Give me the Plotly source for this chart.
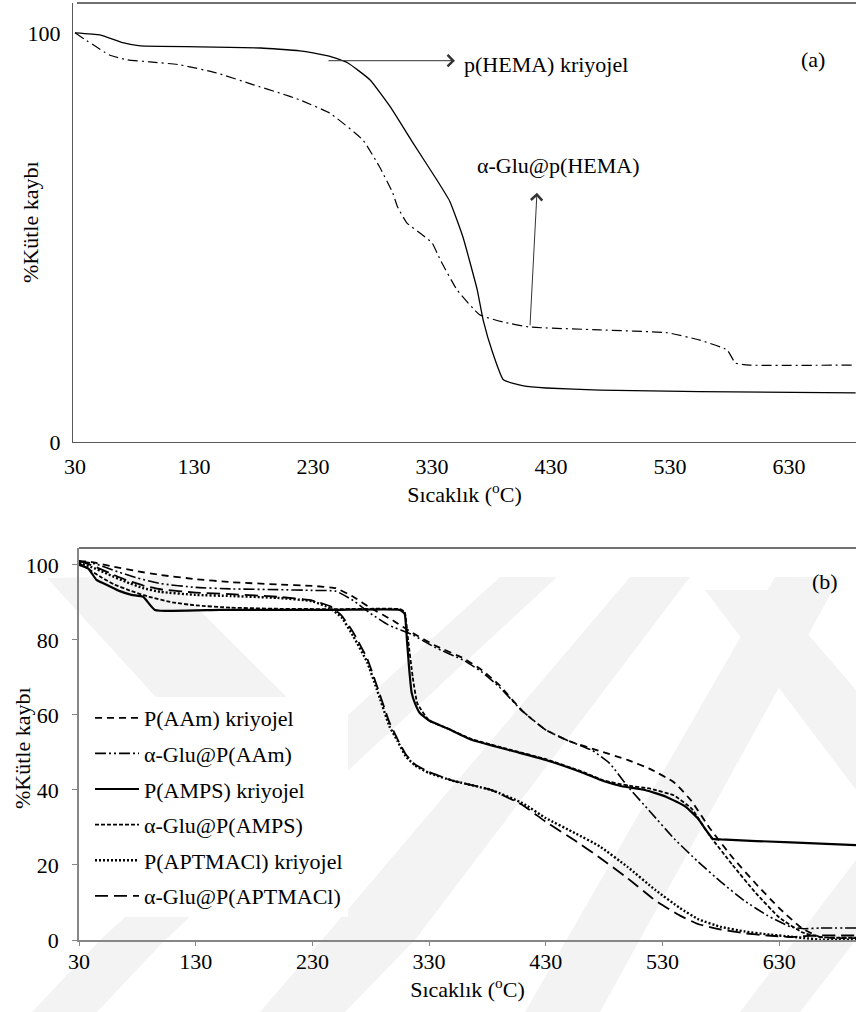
import plotly.graph_objects as go

# ---------------- data: panel (a) ----------------
hema_x = [30, 51, 70, 85, 135, 186, 202, 219, 230, 245, 259, 278, 295, 314, 334, 345, 356, 368, 373, 381, 390, 407, 426, 471, 555, 686]
hema_y = [100, 99.5, 97.6, 96.8, 96.6, 96.3, 96.0, 95.6, 95.1, 94.2, 92.7, 88.5, 81.9, 73.1, 64.1, 58.8, 50.1, 37.2, 29.8, 21.8, 15.2, 13.7, 13.2, 12.7, 12.3, 12.0]

glu_hema_x = [30, 59, 74, 93, 118, 149, 180, 202, 219, 244, 272, 286, 297, 301, 309, 322, 330, 337, 351, 370, 390, 412, 471, 528, 555, 578, 585, 597, 686]
glu_hema_y = [100, 94.6, 93.4, 92.9, 92.2, 90.2, 87.3, 85.3, 83.6, 80.4, 73.8, 67.2, 60.9, 57.5, 53.5, 50.6, 48.7, 44.5, 37.2, 31.1, 29.3, 28.1, 27.4, 26.7, 24.9, 22.5, 19.3, 18.8, 18.8]

# ---------------- data: panel (b) ----------------
aam_x = [30, 40, 60, 80, 100, 130, 160, 200, 230, 250, 265, 280, 300, 315, 335, 360, 375, 390, 410, 430, 450, 475, 500, 520, 540, 555, 570, 590, 610, 630, 650, 665, 680, 696]
aam_y = [101, 100.8, 99.5, 98.3, 97.3, 96.2, 95.4, 94.8, 94.4, 93.8, 91.5, 88.5, 85, 82, 78.5, 75, 72, 68, 61, 56, 53, 50.5, 48, 45.5, 42, 37, 30, 22, 15, 8.5, 3, 0.8, 0.5, 0.5]

glu_aam_x = [30, 45, 60, 80, 100, 130, 160, 200, 230, 250, 265, 280, 295, 315, 335, 360, 375, 390, 410, 430, 450, 470, 485, 500, 520, 540, 560, 580, 600, 620, 640, 652, 665, 696]
glu_aam_y = [101, 100.2, 98.5, 96.5, 95, 94, 93.6, 93.4, 93.2, 93, 90.5, 87, 84, 81.5, 78, 74.5, 71.5, 67.5, 61, 56, 53, 50.5, 47, 41, 34, 27, 21, 15.5, 10.5, 6.5, 3.5, 3, 3.2, 3.2]

amps_x = [30, 38, 45, 55, 65, 75, 85, 95, 150, 200, 250, 305, 309, 311, 313, 315, 318, 322, 330, 345, 367, 400, 430, 460, 480, 495, 515, 533, 550, 560, 568, 573, 580, 640, 696]
amps_y = [100, 99, 96, 94.5, 93, 92, 91.5, 88, 88, 88, 88, 88, 87, 80, 72, 66, 63, 60.5, 58.5, 56.5, 53.3, 50.5, 48, 44.8, 42.3, 41, 40, 38.2, 35.5, 32.5, 29, 27, 26.8, 26, 25.3]

glu_amps_x = [30, 40, 50, 60, 75, 90, 110, 130, 160, 200, 250, 305, 309, 312, 316, 320, 330, 345, 367, 400, 430, 460, 480, 500, 520, 540, 555, 570, 590, 610, 630, 650, 665, 680, 696]
glu_amps_y = [100.5, 98.5, 96.5, 94.8, 93, 91.5, 90, 89.2, 88.6, 88.3, 88.2, 88.2, 87.5, 80, 70, 63, 58.5, 56.5, 53.5, 50.7, 48.2, 45, 42.5, 41.2, 40.3, 38.5, 35, 28, 20, 12.5, 6, 2, 0.8, 0.6, 0.6]

aptmacl_x = [30, 40, 55, 70, 85, 100, 130, 160, 200, 230, 245, 255, 265, 277, 285, 296, 303, 310, 318, 330, 350, 383, 410, 430, 455, 476, 500, 524, 545, 561, 580, 600, 620, 640, 655, 665, 680, 696]
aptmacl_y = [100.5, 99.5, 97.5, 95.5, 93.8, 92.8, 92, 91.7, 91.2, 90.3, 88.5, 86, 81, 74, 67, 57, 53, 49, 46.5, 44.5, 42.5, 40, 36.5, 32.5, 28.5, 25, 19.5, 13.3, 8.5, 5.5, 3.5, 2.3, 1.5, 0.9, 0.4, 0.1, 0.1, 0.1]

glu_aptmacl_x = [30, 40, 55, 70, 85, 100, 130, 160, 200, 230, 245, 255, 265, 277, 285, 296, 303, 310, 318, 330, 350, 383, 410, 430, 455, 476, 500, 524, 545, 561, 580, 600, 620, 640, 650, 660, 680, 696]
glu_aptmacl_y = [101, 100, 98, 96, 94.5, 93.5, 92.6, 92.2, 91.5, 90.5, 89, 86.5, 82, 75, 68, 58, 53.5, 49.5, 46.8, 44.8, 42.5, 40, 36, 31.5, 26.5, 22, 16.5, 10.5, 6.5, 4.2, 2.8, 1.8, 1.2, 0.8, 1.0, 1.2, 1.2, 1.2]

x_ticks = [30, 130, 230, 330, 430, 530, 630]
y_ticks_a = [0, 100]
y_ticks_b = [0, 20, 40, 60, 80, 100]

FONT = "Times New Roman, Liberation Serif, serif"
FS = 22
W, H = 856, 1012

fig = go.Figure()

# panel (a)
fig.add_trace(go.Scatter(x=hema_x, y=hema_y, mode="lines", name="p(HEMA) kriyojel",
                         line=dict(color="black", width=1.3, shape="spline", smoothing=0.4),
                         xaxis="x", yaxis="y", showlegend=False))
fig.add_trace(go.Scatter(x=glu_hema_x, y=glu_hema_y, mode="lines", name="α-Glu@p(HEMA)",
                         line=dict(color="black", width=1.2, dash="10px,4px,2px,4px", shape="spline", smoothing=0.4),
                         xaxis="x", yaxis="y", showlegend=False))

# panel (b)
series_b = [
    ("P(AAm) kriyojel", aam_x, aam_y, "7px,5px", 1.8),
    ("α-Glu@P(AAm)", glu_aam_x, glu_aam_y, "11px,3px,2px,3px,2px,3px", 1.6),
    ("P(AMPS) kriyojel", amps_x, amps_y, "solid", 2.2),
    ("α-Glu@P(AMPS)", glu_amps_x, glu_amps_y, "4px,2px", 1.8),
    ("P(APTMACl) kriyojel", aptmacl_x, aptmacl_y, "2px,2px", 2.4),
    ("α-Glu@P(APTMACl)", glu_aptmacl_x, glu_aptmacl_y, "13px,6px", 1.8),
]
for i, (nm, xs, ys, dash, w) in enumerate(series_b):
    fig.add_trace(go.Scatter(x=xs, y=ys, mode="lines", name=nm, legendgroup="g%d" % i,
                             line=dict(color="black", width=w, dash=dash, shape="spline", smoothing=0.4),
                             xaxis="x2", yaxis="y2"))

def px2paper(px, py):
    return px / W, 1 - py / H

# faint watermark bands (decorative, behind plot)
bands = [
    [(47, 578), (165, 576), (330, 740), (330, 800), (250, 800)],
    [(500, 577), (557, 577), (165, 940), (97, 1012), (32, 1012), (100, 940)],
    [(630, 577), (690, 577), (415, 940), (345, 1012), (260, 1012), (322, 940)],
    [(775, 577), (840, 577), (600, 1012), (525, 1012)],
    [(705, 590), (770, 590), (856, 690), (856, 790)],
    [(856, 860), (856, 940), (800, 1012), (740, 1012)],
]
shapes = []
for b in bands:
    pts = [px2paper(*p) for p in b]
    path = "M " + " L ".join("%.4f,%.4f" % p for p in pts) + " Z"
    shapes.append(dict(type="path", path=path, xref="paper", yref="paper",
                       fillcolor="#f3f3f3", line=dict(width=0), layer="below"))

# top frame lines
x0, y0 = px2paper(77, 3)
shapes.append(dict(type="line", xref="paper", yref="paper", x0=x0, x1=1, y0=y0, y1=y0,
                   line=dict(color="#404040", width=1.3)))
x0, y0 = px2paper(79, 548)
shapes.append(dict(type="line", xref="paper", yref="paper", x0=x0, x1=1, y0=y0, y1=y0,
                   line=dict(color="#404040", width=1.5)))

tickfont = dict(family=FONT, size=FS, color="black")

fig.update_layout(
    width=W, height=H,
    margin=dict(l=0, r=0, t=0, b=0, pad=0),
    paper_bgcolor="white", plot_bgcolor="rgba(0,0,0,0)",
    template="none",
    font=dict(family=FONT, size=FS, color="black"),
    shapes=shapes,
    xaxis=dict(domain=[73 / W, 1], range=[28.32, 686.3], tickvals=x_ticks,
               showline=True, linecolor="#595959", linewidth=1.3, showgrid=False, zeroline=False,
               ticks="", tickfont=tickfont, ticklabelstandoff=4, anchor="y",
               title=dict(text="Sıcaklık (<sup>o</sup>C)", font=dict(family=FONT, size=FS), standoff=5)),
    yaxis=dict(domain=[(H - 442) / H, (H - 3) / H], range=[0, 107.3], tickvals=y_ticks_a,
               showline=True, linecolor="#595959", linewidth=1.3, showgrid=False, zeroline=False,
               ticks="", tickfont=tickfont, ticklabelstandoff=7, anchor="x"),
    xaxis2=dict(domain=[79 / W, 1], range=[30, 695.8], tickvals=x_ticks,
                showline=True, linecolor="#868686", linewidth=1.5, showgrid=False, zeroline=False,
                ticks="outside", ticklen=4, tickcolor="#868686", tickfont=tickfont,
                ticklabelstandoff=-3, anchor="y2",
                title=dict(text="Sıcaklık (<sup>o</sup>C)", font=dict(family=FONT, size=FS), standoff=5)),
    yaxis2=dict(domain=[(H - 940) / H, (H - 548) / H], range=[0, 104.5], tickvals=y_ticks_b,
                showline=True, linecolor="#868686", linewidth=1.5, showgrid=False, zeroline=False,
                ticks="outside", ticklen=5, tickcolor="#868686", tickfont=tickfont,
                ticklabelstandoff=9, anchor="x2"),
    legend=dict(x=90 / W, y=(H - 697) / H, xanchor="left", yanchor="top",
                bgcolor="white", borderwidth=0, font=dict(family=FONT, size=FS),
                tracegroupgap=4, itemwidth=44),
    showlegend=True,
)

annotations = [
    dict(x=349.3, y=93.2, xref="x", yref="y", ax=-128, ay=0, showarrow=True, text="",
         arrowhead=4, arrowsize=2.2, arrowwidth=1, arrowcolor="#333333"),
    dict(x=418.2, y=60.9, xref="x", yref="y", ax=-7, ay=134, showarrow=True, text="",
         arrowhead=4, arrowsize=2.2, arrowwidth=1, arrowcolor="#333333"),
    dict(x=355.2, y=92.3, xref="x", yref="y", text="p(HEMA) kriyojel", showarrow=False,
         xanchor="left", yanchor="middle", font=dict(family=FONT, size=FS)),
    dict(x=366.0, y=67.5, xref="x", yref="y", text="α-Glu@p(HEMA)", showarrow=False,
         xanchor="left", yanchor="middle", font=dict(family=FONT, size=FS)),
    dict(x=650.2, y=93.4, xref="x", yref="y", text="(a)", showarrow=False,
         xanchor="center", yanchor="middle", font=dict(family=FONT, size=FS)),
    dict(x=669.2, y=95.5, xref="x2", yref="y2", text="(b)", showarrow=False,
         xanchor="center", yanchor="middle", font=dict(family=FONT, size=FS)),
    # y-axis titles
    dict(x=31 / W, y=(H - 222) / H, xref="paper", yref="paper", text="%Kütle kaybı",
         textangle=-90, showarrow=False, xanchor="center", yanchor="middle",
         font=dict(family=FONT, size=FS)),
    dict(x=22 / W, y=(H - 748) / H, xref="paper", yref="paper", text="%Kütle kaybı",
         textangle=-90, showarrow=False, xanchor="center", yanchor="middle",
         font=dict(family=FONT, size=FS)),
]
fig.update_layout(annotations=annotations)

fig.write_html("out.html")
